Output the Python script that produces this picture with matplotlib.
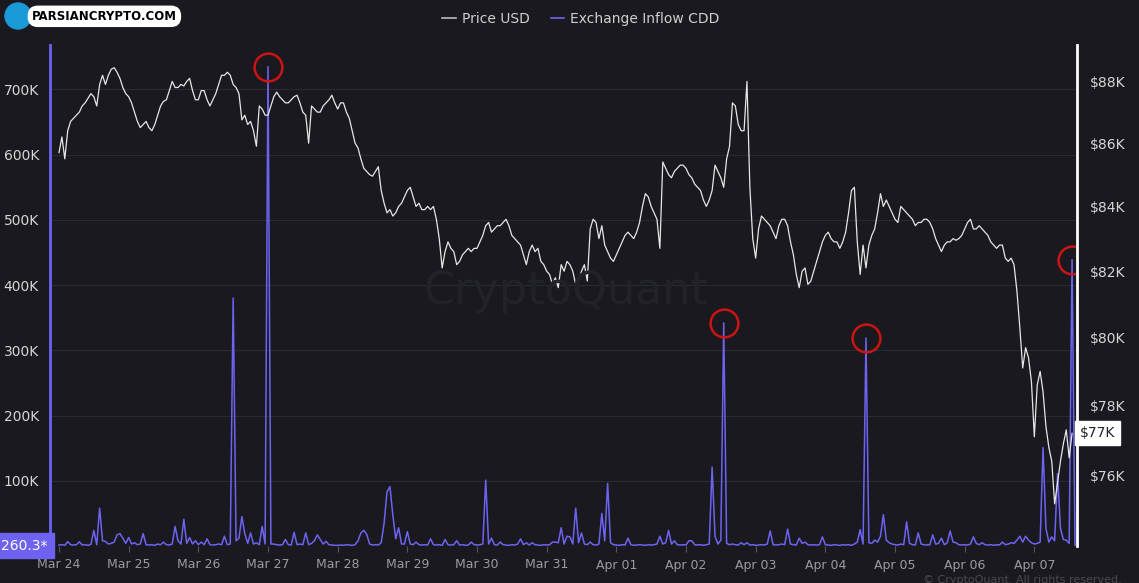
import matplotlib
matplotlib.use("Agg")
import matplotlib.pyplot as plt
from matplotlib.ticker import FixedLocator, NullLocator, FuncFormatter
from matplotlib.lines import Line2D
from matplotlib.patches import Ellipse

# hourly BTC price (thousand USD), starting Mar 24 00:00
price_k = [
    85.7, 86.2, 85.5, 86.4, 86.7, 86.8, 86.9, 87.0, 87.2, 87.3, 87.45, 87.6, 87.5, 87.2, 87.9, 88.2, 87.9, 88.2, 88.4, 88.45, 88.3, 88.1, 87.8, 87.6,
    87.5, 87.3, 87.0, 86.7, 86.5, 86.6, 86.7, 86.5, 86.4, 86.6, 86.9, 87.2, 87.35, 87.4, 87.7, 88.0, 87.8, 87.8, 87.9, 87.85, 88.0, 88.1, 87.7, 87.4,
    87.4, 87.7, 87.7, 87.4, 87.2, 87.4, 87.6, 87.9, 88.2, 88.2, 88.3, 88.2, 87.9, 87.8, 87.6, 86.75, 86.9, 86.6, 86.7, 86.4, 85.9, 87.2, 87.1, 86.9,
    86.9, 87.2, 87.5, 87.65, 87.5, 87.4, 87.3, 87.3, 87.4, 87.5, 87.55, 87.3, 87.0, 86.9, 86.0, 87.2, 87.1, 87.0, 87.0, 87.2, 87.3, 87.4, 87.55, 87.3,
    87.1, 87.3, 87.3, 87.0, 86.8, 86.4, 86.0, 85.85, 85.5, 85.2, 85.1, 85.0, 84.95, 85.1, 85.25, 84.5, 84.1, 83.8, 83.9, 83.7, 83.8, 84.0, 84.1, 84.3,
    84.5, 84.6, 84.3, 84.0, 84.1, 83.9, 83.9, 84.0, 83.9, 84.0, 83.6, 83.0, 82.1, 82.6, 82.9, 82.7, 82.6, 82.2, 82.3, 82.5, 82.6, 82.7, 82.6, 82.7,
    82.7, 82.9, 83.1, 83.4, 83.5, 83.2, 83.3, 83.4, 83.4, 83.5, 83.6, 83.4, 83.1, 83.0, 82.9, 82.8, 82.5, 82.2, 82.6, 82.8, 82.6, 82.7, 82.3, 82.2,
    82.0, 81.9, 81.6, 81.8, 81.5, 82.2, 82.0, 82.3, 82.2, 82.0, 81.6, 81.7, 82.0, 82.2, 81.7, 83.3, 83.6, 83.5, 83.0, 83.4, 82.8, 82.6, 82.4, 82.3,
    82.5, 82.7, 82.9, 83.1, 83.2, 83.1, 83.0, 83.2, 83.5, 84.0, 84.4, 84.3, 84.0, 83.8, 83.6, 82.7, 85.4, 85.2, 85.0, 84.9, 85.1, 85.2, 85.3, 85.3,
    85.2, 85.0, 84.9, 84.7, 84.6, 84.5, 84.2, 84.0, 84.2, 84.5, 85.3, 85.1, 84.9, 84.6, 85.5, 85.9, 87.3, 87.2, 86.6, 86.4, 86.4, 88.0, 84.6, 83.0,
    82.4, 83.3, 83.7, 83.6, 83.5, 83.4, 83.2, 83.0, 83.4, 83.6, 83.6, 83.4, 82.9, 82.5, 81.9, 81.5, 82.0, 82.1, 81.6, 81.7, 82.0, 82.3, 82.6, 82.9,
    83.1, 83.2, 83.0, 82.9, 82.9, 82.7, 82.9, 83.2, 83.8, 84.5, 84.6, 82.9, 81.9, 82.8, 82.1, 82.8, 83.1, 83.3, 83.8, 84.4, 84.0, 84.2, 84.0, 83.8,
    83.6, 83.5, 84.0, 83.9, 83.8, 83.7, 83.6, 83.4, 83.5, 83.5, 83.6, 83.6, 83.5, 83.3, 83.0, 82.8, 82.6, 82.8, 82.9, 82.9, 83.0, 82.95, 83.0, 83.1,
    83.3, 83.5, 83.6, 83.3, 83.3, 83.4, 83.3, 83.2, 83.1, 82.9, 82.8, 82.7, 82.8, 82.8, 82.4, 82.3, 82.4, 82.2, 81.4, 80.3, 79.1, 79.7, 79.4, 78.7,
    77.1, 78.6, 79.0, 78.4, 77.4, 76.8, 76.4, 75.2, 75.8, 76.4, 76.9, 77.3, 76.5, 77.2,
]

# hourly exchange inflow CDD (thousands), starting Mar 24 00:00
cdd_k = [
    1.5, 2, 1, 6.6, 2, 1.5, 2, 6.5, 1.5, 2, 1, 2.5, 24, 2, 58, 8, 7, 3, 4, 6, 17, 19, 12, 4,
    13, 3, 5, 2, 3, 19, 2, 1.5, 2, 1, 3, 2, 6, 2, 1.5, 3, 30, 8, 3, 41, 4, 13, 3, 8,
    2, 6, 2, 11, 2, 1.5, 2, 3, 2, 15, 2, 3, 380, 8, 12, 45, 19, 4, 20, 3, 5, 2, 30, 3,
    735, 3, 3, 2, 1.5, 2, 10, 2, 1.5, 21, 2, 3, 2, 20, 2, 4, 8, 17, 10, 3, 7, 2, 1.5, 1,
    1, 1.5, 1, 2, 1.5, 1, 2, 8, 20, 24, 18, 3, 1.5, 2, 1.5, 5, 35, 83, 91, 48, 11, 28, 3, 3,
    22, 3, 2, 6, 2, 1.5, 2, 1.5, 11, 2, 1.5, 2, 1, 10, 2, 1.5, 2, 8, 1.5, 2, 1, 1.5, 6, 2,
    1.5, 2, 3, 101, 3, 12, 2, 1.5, 6, 2, 1.5, 1, 2, 1.5, 3, 11, 2, 5, 1.5, 5, 2, 1.5, 1, 2,
    1.5, 2, 6, 6, 5, 28, 3, 15, 14, 3, 58, 5, 20, 3, 2, 6, 2, 1.5, 3, 50, 8, 96, 5, 2,
    1.5, 1, 2, 1.5, 12, 2, 1, 1.5, 2, 1.5, 1, 2, 1.5, 2, 3, 15, 3, 5, 24, 3, 8, 2, 1.5, 2,
    1.5, 8, 8, 2, 1.5, 2, 1, 2, 3, 121, 15, 3, 9, 342, 4, 2, 3, 2, 1.5, 5, 2, 5, 1.5, 2,
    1, 1.5, 2, 1.5, 3, 23, 2, 1.5, 2, 3, 2, 26, 3, 2, 1.5, 12, 4, 6, 2, 1.5, 2, 1.5, 2, 14,
    2, 1.5, 1, 2, 1.5, 1, 2, 1.5, 2, 1, 3, 6, 25, 3, 319, 5, 4, 9, 6, 15, 48, 9, 5, 3,
    2, 1.5, 3, 2, 37, 4, 2, 1.5, 20, 3, 2, 1.5, 2, 17, 3, 4, 12, 2, 5, 23, 6, 5, 2, 1.5,
    2, 1.5, 3, 14, 4, 2, 5, 2, 1.5, 2, 1, 2, 1.5, 6, 2, 3, 5, 4, 9, 15, 6, 15, 9, 5,
    3, 4, 6, 151, 27, 6, 14, 8, 111, 27, 10, 9, 4, 439, 0.2603,
]

day_labels = ["Mar 24", "Mar 25", "Mar 26", "Mar 27", "Mar 28", "Mar 29", "Mar 30", "Mar 31",
              "Apr 01", "Apr 02", "Apr 03", "Apr 04", "Apr 05", "Apr 06", "Apr 07"]
circled_hours = [72, 229, 278, 349]

bg = "#19191f"
purple = "#6d63f0"

price_x = list(range(len(price_k)))
price = [p * 1000 for p in price_k]
cdd_x = list(range(len(cdd_k)))
cdd = [c * 1000 for c in cdd_k]

fig = plt.figure(figsize=(11.39, 5.83), dpi=100, facecolor=bg)
ax = fig.add_axes([50 / 1139, 37 / 583, 1027 / 1139, 501 / 583])
ax.set_facecolor(bg)

ax.plot(cdd_x, cdd, color=purple, lw=1.1, zorder=3)
for h in circled_hours:
    ax.plot([h], [cdd[h]], marker="o", ms=20, mfc="none", mec="#cc1414", mew=1.8, zorder=6)

ax.set_xlim(-3.1, 350.7)
ax.set_ylim(0, 768000)
ax.yaxis.set_major_locator(FixedLocator([100000 * i for i in range(1, 8)]))
ax.yaxis.set_major_formatter(FuncFormatter(lambda v, p: f"{int(v / 1000)}K"))
ax.grid(axis="y", color="#2a2a33", lw=0.8)
ax.set_axisbelow(True)
ax.set_xticks([24 * i for i in range(len(day_labels))])
ax.set_xticklabels(day_labels)
ax.tick_params(axis="x", colors="#555560", length=4, labelcolor="#9a9aa2", labelsize=9, pad=5)
ax.tick_params(axis="y", length=0, labelcolor="#d6d6d6", labelsize=10, pad=8)
for s in ["top", "bottom", "right"]:
    ax.spines[s].set_visible(False)
ax.spines["left"].set_color(purple)
ax.spines["left"].set_linewidth(2)

ax2 = ax.twinx()
ax2.plot(price_x, price, color="#e6e6e6", lw=0.9, zorder=4)
ax2.set_yscale("log")
ax2.set_ylim(74030, 89200)
ax2.yaxis.set_major_locator(FixedLocator([76000, 78000, 80000, 82000, 84000, 86000, 88000]))
ax2.yaxis.set_minor_locator(NullLocator())
ax2.yaxis.set_major_formatter(FuncFormatter(lambda v, p: f"${int(round(v / 1000))}K"))
ax2.tick_params(axis="y", length=0, labelcolor="#d6d6d6", labelsize=10, pad=9)
for s in ["top", "bottom", "left"]:
    ax2.spines[s].set_visible(False)
ax2.spines["right"].set_color("white")
ax2.spines["right"].set_linewidth(2)

# last value tags
ax2.text(1.003, price[-1], "$77K", transform=ax2.get_yaxis_transform(), ha="left", va="center",
         fontsize=10, color="#222222",
         bbox=dict(boxstyle="square,pad=0.35", fc="white", ec="white"))
ax.text(-0.002, cdd[-1], "260.3*", transform=ax.get_yaxis_transform(), ha="right", va="center",
        fontsize=10, color="white",
        bbox=dict(boxstyle="square,pad=0.4", fc=purple, ec=purple))

# legend
handles = [Line2D([], [], color="#bdbdbd", lw=1.2), Line2D([], [], color=purple, lw=1.2)]
fig.legend(handles, ["Price USD", "Exchange Inflow CDD"], loc="center", bbox_to_anchor=(0.51, 0.968),
           ncol=2, frameon=False, fontsize=10, labelcolor="#cfcfcf", handlelength=1.0,
           handletextpad=0.4, columnspacing=1.5)

# watermark and logo
fig.text(0.497, 0.5, "CryptoQuant", fontsize=32, color="#222229", ha="center", va="center")
fig.text(0.985, 0.005, "© CryptoQuant. All rights reserved.", fontsize=8, color="#4a4a52", ha="right", va="center")
fig.text(0.028, 0.972, "PARSIANCRYPTO.COM", fontsize=8.5, fontweight="bold", color="black", ha="left", va="center",
         bbox=dict(boxstyle="round,pad=0.3,rounding_size=0.8", fc="white", ec="white"))
fig.add_artist(Ellipse((18 / 1139, 1 - 16 / 583), 26 / 1139, 26 / 583, color="#1a9ad6"))

fig.savefig("out.png", dpi=100, facecolor=bg)
